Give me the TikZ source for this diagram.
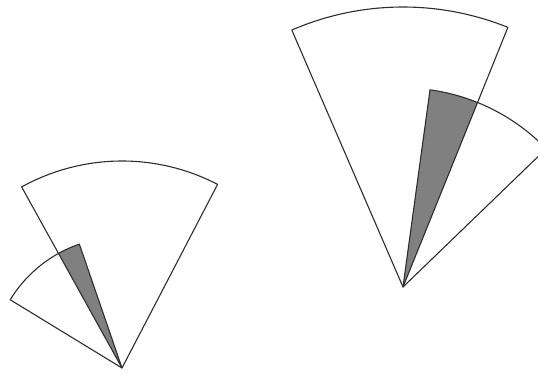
\documentclass[tikz,border=0pt]{standalone}
\usepackage{tikz}
\definecolor{ink}{HTML}{2E2E2E}
\definecolor{shade}{HTML}{808080}
\definecolor{paper}{HTML}{FFFFFF}
\begin{document}
\begin{tikzpicture}[x=1pt, y=1pt,
          w/.style={draw=ink, line width=1.1pt, line join=round},
          o/.style={fill=shade}]
        \clip (0,0) rectangle (538,375);
        \fill[paper] (0,0) rectangle (538,375);
        \coordinate (lowapex) at (122,7);
        \coordinate (highapex) at (403,88);
        % overlaps
        \foreach \p/\r/\a/\b in {lowapex/131/109/119, highapex/199/68/82.2}
          \path[o] (\p) -- ++(\a:\r) arc[start angle=\a, end angle=\b, radius=\r] -- cycle;
        % sectors
        \foreach \p/\r/\a/\b in {lowapex/207/62.5/119, lowapex/131/109/148.6,
                                 highapex/280/68/113.4, highapex/199/44/82.2}
          \draw[w] (\p) -- ++(\a:\r) arc[start angle=\a, end angle=\b, radius=\r] -- cycle;
      \end{tikzpicture}
\end{document}
